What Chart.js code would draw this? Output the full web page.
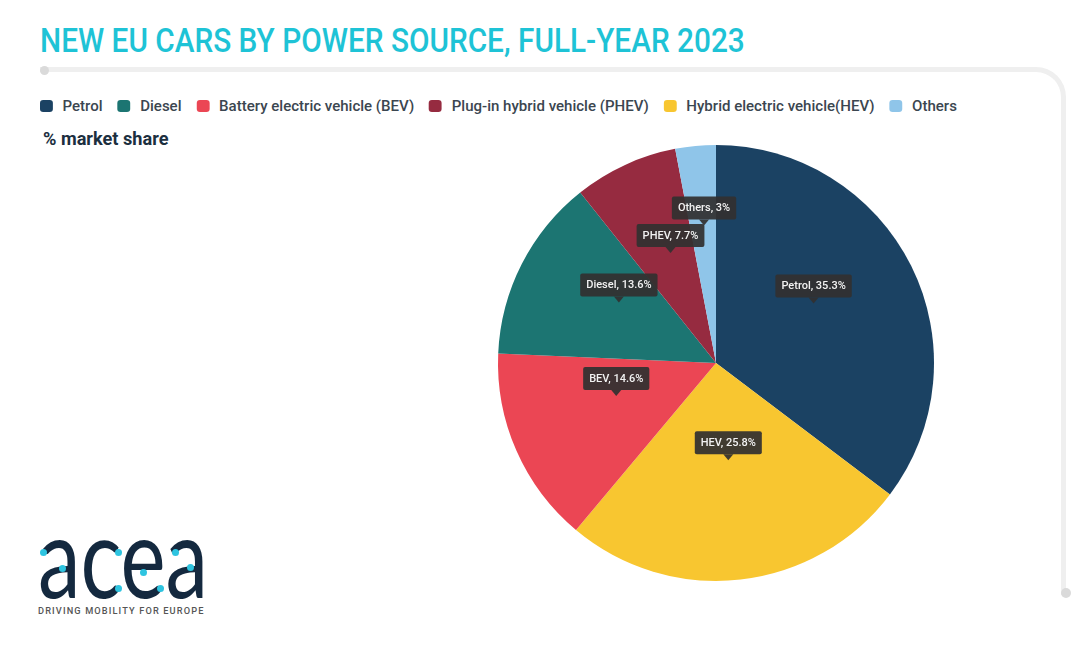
<!DOCTYPE html>
<html>
<head>
<meta charset="utf-8">
<script src="https://cdn.jsdelivr.net/npm/chart.js@4.4.1/dist/chart.umd.min.js"></script>
<style>
  body { margin: 0; background: #fff; font-family: Roboto, sans-serif; }
  #page { position: relative; width: 1080px; height: 661px; overflow: hidden; }
  #title { position: absolute; left: 40px; top: 20px; font-size: 34px; font-weight: 500; color: #1ec3d6; white-space: nowrap; transform-origin: 0 0; }
  #card { position: absolute; left: 40px; top: 67px; width: 1021px; height: 523px; border-top: 5px solid #efefef; border-right: 5px solid #efefef; border-top-right-radius: 30px; }
  .dot { position: absolute; border-radius: 50%; background: #dadada; }
  #legend { position: absolute; left: 40px; top: 98px; display: flex; white-space: nowrap; transform-origin: 0 0; }
  .item { display: flex; align-items: center; margin-right: 14px; font-size: 14px; font-weight: 500; color: #3b4650; }
  .box { width: 12px; height: 12px; border-radius: 3px; margin-right: 9px; }
  #sub { position: absolute; left: 43px; top: 128px; font-size: 18px; font-weight: 700; color: #1c2f3f; white-space: nowrap; transform-origin: 0 0; }
  #chartWrap { position: absolute; left: 488px; top: 135px; width: 456px; height: 456px; }
  #logo { position: absolute; left: 38px; top: 499px; font-family: Lato, sans-serif; font-size: 112px; line-height: 112px; color: #14293f; transform-origin: 0 0; white-space: nowrap; }
  #tag { position: absolute; left: 40px; top: 606px; font-size: 9px; font-weight: 500; letter-spacing: 1.1px; color: #555; white-space: nowrap; }
  .cy { position: absolute; width: 7px; height: 7px; border-radius: 50%; background: #2ec4e0; }
</style>
</head>
<body>
<div id="page">
  <div id="title">NEW EU CARS BY POWER SOURCE, FULL-YEAR 2023</div>
  <div id="card"></div>
  <div class="dot" style="left:40px;top:66px;width:9px;height:9px"></div>
  <div class="dot" style="left:1061px;top:588px;width:10px;height:10px"></div>
  <div id="legend"></div>
  <div id="sub">% market share</div>
  <div id="chartWrap"><canvas id="pie"></canvas></div>
  <div id="logo">acea</div>
  <div class="cy" style="left:40px;top:549px"></div>
  <div class="cy" style="left:59px;top:565px"></div>
  <div class="cy" style="left:115px;top:549px"></div>
  <div class="cy" style="left:115px;top:585px"></div>
  <div class="cy" style="left:140px;top:569px"></div>
  <div class="cy" style="left:157px;top:585px"></div>
  <div class="cy" style="left:172px;top:549px"></div>
  <div class="cy" style="left:187px;top:564px"></div>
  <div id="tag">DRIVING MOBILITY FOR EUROPE</div>
</div>
<script>
// slices, clockwise from the top
const labels = ['Petrol', 'HEV', 'BEV', 'Diesel', 'PHEV', 'Others'];
const legendNames = ['Petrol', 'Hybrid electric vehicle(HEV)', 'Battery electric vehicle (BEV)', 'Diesel', 'Plug-in hybrid vehicle (PHEV)', 'Others'];
const shares = [35.3, 25.8, 14.6, 13.6, 7.7, 3];
const colors = ['#1b4263', '#f8c630', '#eb4654', '#1c7572', '#962b40', '#8fc5e9'];
// legend shows the slices in this order
const legendOrder = [0, 3, 2, 4, 1, 5];

function fitWidth(el, w) {
    el.style.transform = 'scaleX(' + (w / el.scrollWidth) + ')';
}

const htmlLegend = {
    id: 'htmlLegend',
    afterUpdate(chart) {
        let box = document.getElementById('legend');
        box.innerHTML = '';
        let bg = chart.data.datasets[0].backgroundColor;
        legendOrder.forEach(i => {
            let item = document.createElement('div');
            item.className = 'item';
            item.innerHTML = '<span class="box" style="background:' + bg[i] + '"></span>' + legendNames[i];
            box.appendChild(item);
        });
        box.lastChild.style.marginRight = '0';
        fitWidth(box, 917);
    }
};

const sliceLabels = {
    id: 'sliceLabels',
    afterDatasetsDraw(chart) {
        let ctx = chart.ctx;
        let meta = chart.getDatasetMeta(0);
        let placed = [];
        ctx.save();
        ctx.font = '500 11px Roboto';
        ctx.textAlign = 'center';
        ctx.textBaseline = 'middle';
        meta.data.forEach((arc, i) => {
            let text = labels[i] + ', ' + shares[i] + '%';
            let w = ctx.measureText(text).width + 12;
            let h = 23;
            let mid = (arc.startAngle + arc.endAngle) / 2;
            let r = (arc.innerRadius + arc.outerRadius) / 2;
            let b;
            // push a label outwards while it hits one already drawn
            for (let k = 0; k < 30; k++) {
                let x = arc.x + Math.cos(mid) * r;
                let y = arc.y + Math.sin(mid) * r - 11;
                b = { x: x, y: y, l: x - w / 2, r: x + w / 2, t: y - 6 - h, b: y - 6 };
                let hit = placed.some(p => b.l < p.r + 4 && b.r > p.l - 4 && b.t < p.b + 4 && b.b > p.t - 4);
                if (!hit) break;
                r += 3;
            }
            placed.push(b);
            ctx.fillStyle = 'rgba(50, 48, 48, 0.93)';
            ctx.beginPath();
            ctx.roundRect(b.l, b.t, w, h, 2);
            ctx.fill();
            ctx.beginPath();
            ctx.moveTo(b.x - 5, b.b);
            ctx.lineTo(b.x + 5, b.b);
            ctx.lineTo(b.x, b.y);
            ctx.closePath();
            ctx.fill();
            ctx.fillStyle = '#f2f2f2';
            ctx.fillText(text, b.x, b.t + h / 2 + 0.5);
        });
        ctx.restore();
    }
};

let ctx = document.getElementById('pie');
const pieChart = new Chart(ctx, {
    type: 'pie',
    data: {
        labels: labels,
        datasets: [{
            data: shares,
            backgroundColor: colors,
            borderWidth: 0
        }]
    },
    options: {
        responsive: true,
        maintainAspectRatio: false,
        animation: false,
        layout: { padding: 10 },
        plugins: {
            legend: { display: false },
            tooltip: { enabled: false }
        }
    },
    plugins: [htmlLegend, sliceLabels]
});

fitWidth(document.getElementById('title'), 705);
fitWidth(document.getElementById('sub'), 125);
fitWidth(document.getElementById('logo'), 170);
fitWidth(document.getElementById('tag'), 167);
</script>
</body>
</html>
